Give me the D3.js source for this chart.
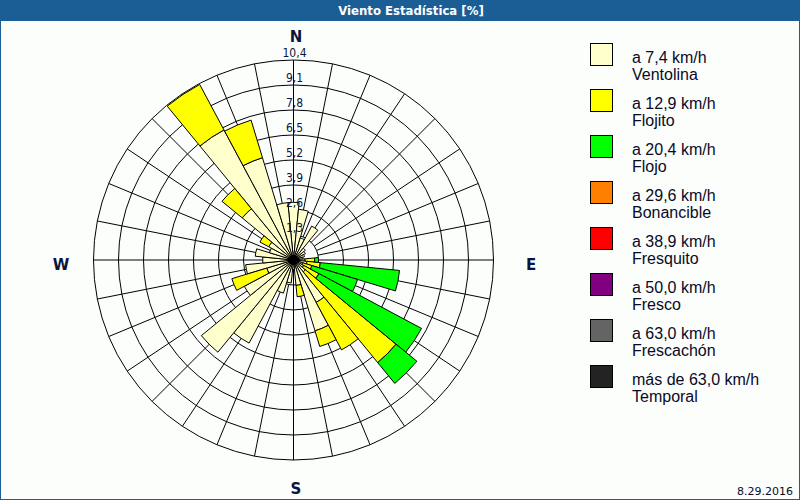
<!DOCTYPE html>
<html><head><meta charset="utf-8">
<script src="https://cdn.jsdelivr.net/npm/d3@7"></script>
<style>body{margin:0;background:#fff}svg{display:block}</style>
</head><body>
<script>
const directions = ["N","NbE","NNE","NEbN","NE","NEbE","ENE","EbN","E","EbS","ESE","SEbE","SE","SEbS","SSE","SbE","S","SbW","SSW","SWbS","SW","SWbW","WSW","WbS","W","WbN","WNW","NWbW","NW","NWbN","NNW","NbW"];
const ventolina  = [3.0,2.65,1.2,2.0,0.8,0.7,0.6,0.5,0.6,0.7,0.5,0.6,0.8,2.5,3.85,1.33,0.5,1.2,1.8,4.9,6.2,2.9,1.45,2.5,1.6,2.0,1.3,1.46,3.45,7.67,5.56,3.0];
const flojito    = [0,0,0,0,0,0,0,0,0.5,0.7,0.5,0.9,6.1,2.8,0.85,0.59,0,0,0,0,0,0,1.9,0,0,0,0,0.52,1.36,2.68,2.04,0];
const flojo      = [0,0,0,0,0,0,0,0,0.2,4.14,2.48,6.05,1.4,0,0,0,0,0,0,0,0,0,0,0,0,0,0,0,0,0,0,0];
const bonancible = new Array(32).fill(0);
const fresquito  = new Array(32).fill(0);
const fresco     = new Array(32).fill(0);
const frescachon = new Array(32).fill(0);
const temporal   = new Array(32).fill(0);
const classKeys = ["Ventolina","Flojito","Flojo","Bonancible","Fresquito","Fresco","Frescachón","Temporal"];
const classSpeeds = ["a 7,4 km/h","a 12,9 km/h","a 20,4 km/h","a 29,6 km/h","a 38,9 km/h","a 50,0 km/h","a 63,0 km/h","más de 63,0 km/h"];
const classColors = ["#ffffcc","#ffff00","#00ff00","#ff8000","#ff0000","#800080","#646464","#232323"];
const ringValues = [1.3,2.6,3.9,5.2,6.5,7.8,9.1,10.4];
const ringLabels = ["1,3","2,6","3,9","5,2","6,5","7,8","9,1","10,4"];
const compass = [["N",0],["E",90],["S",180],["W",270]];
const titleText = "Viento Estadística [%]";
const dateText = "8.29.2016";

const series = [ventolina,flojito,flojo,bonancible,fresquito,fresco,frescachon,temporal];
const rows = directions.map((d,i)=>{const o={dir:d};classKeys.forEach((k,j)=>o[k]=series[j][i]);return o;});

const W=800,H=500,cx=293.5,cy=260,R=200;
const svg=d3.select("body").append("svg").attr("width",W).attr("height",H);
svg.append("rect").attr("x",0).attr("y",0).attr("width",W).attr("height",H).attr("fill","#fcfefc");
svg.append("rect").attr("x",0).attr("y",0).attr("width",W).attr("height",21).attr("fill","#1b5e96");
svg.append("rect").attr("x",0.5).attr("y",0.5).attr("width",W-1).attr("height",H-1).attr("fill","none").attr("stroke","#1b5e96");
svg.append("text").attr("x",411).attr("y",15).attr("text-anchor","middle").attr("fill","#fff")
  .attr("font-family","'Liberation Sans Narrow','DejaVu Sans Condensed',sans-serif").attr("font-weight","bold").attr("font-size",13).text(titleText);

const r=d3.scaleLinear().domain([0,10.4]).range([0,R]);
const a=d3.scaleBand().domain(directions).range([0,2*Math.PI]);
const bw=a.bandwidth();
const g=svg.append("g").attr("transform",`translate(${cx},${cy})`);

// grid
g.selectAll("circle.ring").data(ringValues).join("circle").attr("r",d=>r(d)).attr("fill","none").attr("stroke","#000").attr("stroke-width",1);
g.selectAll("line.spoke").data(directions).join("line")
  .attr("x1",(d,i)=>(i%8===0?0:r(ringValues[0]))*Math.sin(a(d)))
  .attr("y1",(d,i)=>-(i%8===0?0:r(ringValues[0]))*Math.cos(a(d)))
  .attr("x2",d=>r(10.4)*Math.sin(a(d))).attr("y2",d=>-r(10.4)*Math.cos(a(d)))
  .attr("stroke","#000").attr("stroke-width",1);

// bars
const stack=d3.stack().keys(classKeys)(rows);
const arc=d3.arc();
stack.forEach((layer,j)=>{
  g.append("g").selectAll("path").data(layer.filter(d=>d[1]-d[0]>0)).join("path")
   .attr("d",d=>arc({innerRadius:r(d[0]),outerRadius:r(d[1]),startAngle:a(d.data.dir)-bw/2,endAngle:a(d.data.dir)+bw/2}))
   .attr("fill",classColors[j]).attr("stroke","#000").attr("stroke-width",1);
});
// dark hub where outlines converge
g.append("circle").attr("r",5).attr("fill","#000");

// ring labels
g.selectAll("text.rl").data(ringValues).join("text").attr("x",1).attr("y",d=>-r(d)-3)
  .attr("text-anchor","middle").attr("font-family","'Liberation Sans Narrow','DejaVu Sans Condensed',sans-serif").attr("font-size",12).attr("fill","#0a1440").text((d,i)=>ringLabels[i]);

// compass letters
const cpos={N:[296,42],E:[531,270],S:[296,494],W:[61,270]};
svg.selectAll("text.cp").data(compass).join("text").attr("x",d=>cpos[d[0]][0]).attr("y",d=>cpos[d[0]][1])
  .attr("text-anchor","middle").attr("font-family","'DejaVu Sans',sans-serif").attr("font-weight","bold").attr("font-size",15).attr("fill","#0a1440").text(d=>d[0]);

// legend
const lg=svg.append("g");
classKeys.forEach((k,i)=>{
  const y=43.5+46*i;
  lg.append("rect").attr("x",590.5).attr("y",y).attr("width",22).attr("height",22).attr("fill",classColors[i]).attr("stroke","#000");
  lg.append("text").attr("x",632).attr("y",y+19).attr("font-family","'Liberation Sans',Arial,sans-serif").attr("font-size",16).attr("fill","#0a0a28").text(classSpeeds[i]);
  lg.append("text").attr("x",632).attr("y",y+36.5).attr("font-family","'Liberation Sans',Arial,sans-serif").attr("font-size",16).attr("fill","#0a0a28").text(k);
});
svg.append("text").attr("x",793).attr("y",495).attr("text-anchor","end").attr("font-family","'DejaVu Sans',sans-serif").attr("font-size",11).attr("fill","#0a0a28").text(dateText);
</script>
</body></html>
